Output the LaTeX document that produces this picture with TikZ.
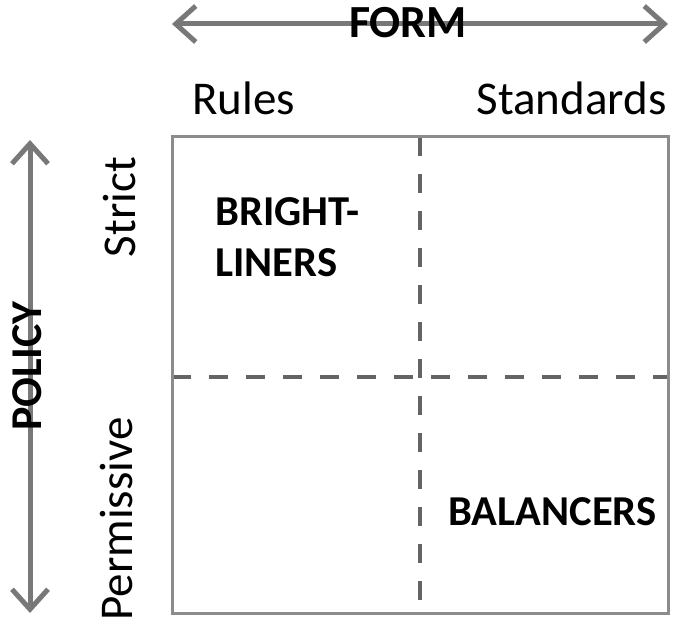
\documentclass[tikz,border=0pt]{standalone}
\usepackage{fontspec}
\setmainfont{Carlito}
\usetikzlibrary{arrows.meta}
\definecolor{framegray}{RGB}{140,140,140}
\definecolor{dashgray}{RGB}{100,100,100}
\definecolor{arrowgray}{RGB}{120,120,120}
\tikzset{
  lbl/.style={inner sep=0pt, font=\fontsize{23.5}{26}\selectfont},
  bold lbl/.style={inner sep=0pt, font=\fontsize{21.3}{25.5}\selectfont\bfseries},
  axis arrow/.style={draw=arrowgray, line width=2.5pt,
    {Straight Barb[length=10pt,width=18pt,line width=2.5pt]}-{Straight Barb[length=10pt,width=18pt,line width=2.5pt]}},
  divider/.style={draw=dashgray, line width=2pt, dash pattern=on 9.5pt off 9pt},
  frame/.style={draw=framegray, line width=1.5pt}
}
\begin{document}
\begin{tikzpicture}[x=0.5pt,y=-0.5pt]
\useasboundingbox (0,0) rectangle (674,624);
% frame corners
\coordinate (tl) at (172,137);
\coordinate (br) at (668,613);
\coordinate (vt) at (420,137);
\coordinate (vb) at (420,613);
\coordinate (hl) at (172,377);
\coordinate (hr) at (668,377);
% axes
\coordinate (fl) at (172,24);
\coordinate (fr) at (668,24);
\coordinate (pt) at (30,140);
\coordinate (pb) at (30,613);
\draw[axis arrow] (fl) -- (fr);
\draw[axis arrow] (pt) -- (pb);
\node[bold lbl, font=\fontsize{23}{26}\selectfont\bfseries] (form) at (408,23) {FORM};
\node[bold lbl, font=\fontsize{22}{26}\selectfont\bfseries, rotate=90] (policy) at (27,366) {POLICY};
% frame and dividers
\draw[divider] (vt) -- (vb);
\draw[divider] (hl) -- (hr);
\draw[frame] (tl) rectangle (br);
% labels
\node[lbl, anchor=base west] (rules) at (192,115) {Rules};
\node[lbl, anchor=base east] (standards) at (667,115) {Standards};
\node[lbl, anchor=base, rotate=90] (strict) at (135,207) {Strict};
\node[lbl, anchor=base, rotate=90] (permissive) at (132,519) {Permissive};
\node[bold lbl, anchor=north west, align=left] (bright) at (215,197) {BRIGHT-\\LINERS};
\node[bold lbl, anchor=base west] (balancers) at (448,525) {BALANCERS};
\end{tikzpicture}
\end{document}
